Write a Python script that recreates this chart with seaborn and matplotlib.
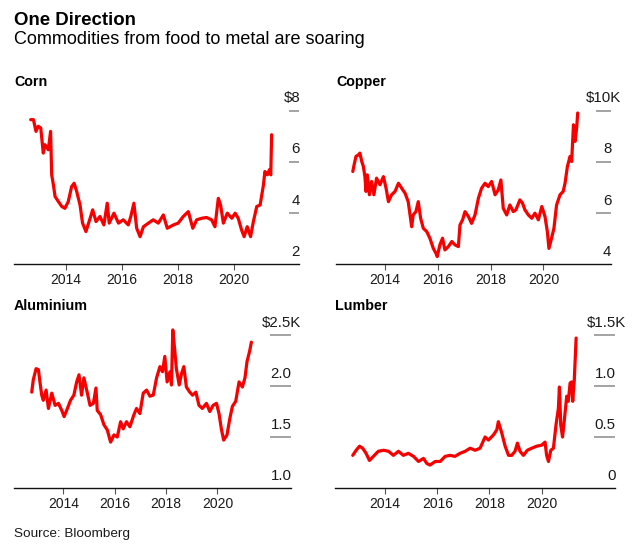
import matplotlib
matplotlib.use("Agg")
import matplotlib.pyplot as plt
import seaborn as sns
import pandas as pd

# ---------------- data ----------------
corn_year = [2012.74, 2012.84, 2012.93, 2013.01, 2013.10, 2013.19, 2013.25, 2013.37, 2013.45, 2013.49,
             2013.55, 2013.61, 2013.73, 2013.85, 2013.96, 2014.08, 2014.20, 2014.29, 2014.38, 2014.50,
             2014.59, 2014.71, 2014.86, 2014.95, 2015.07, 2015.21, 2015.35, 2015.47, 2015.54, 2015.71,
             2015.87, 2016.04, 2016.22, 2016.31, 2016.42, 2016.52, 2016.64, 2016.76, 2016.94, 2017.11,
             2017.29, 2017.47, 2017.61, 2017.83, 2018.00, 2018.18, 2018.36, 2018.52, 2018.66, 2018.84,
             2019.01, 2019.19, 2019.31, 2019.43, 2019.51, 2019.61, 2019.75, 2019.91, 2020.03, 2020.14,
             2020.26, 2020.35, 2020.46, 2020.58, 2020.68, 2020.80, 2020.92, 2021.04, 2021.09, 2021.18,
             2021.25, 2021.30, 2021.33]
corn_price = [7.65, 7.65, 7.19, 7.39, 7.32, 6.34, 6.67, 6.47, 7.19, 5.49,
              5.10, 4.64, 4.44, 4.25, 4.18, 4.44, 5.03, 5.16, 4.84, 4.31,
              3.60, 3.27, 3.79, 4.12, 3.66, 3.86, 3.53, 4.38, 3.60, 3.99,
              3.60, 3.73, 3.53, 3.86, 4.38, 3.40, 3.07, 3.46, 3.60, 3.73,
              3.60, 3.92, 3.40, 3.53, 3.60, 3.86, 4.05, 3.40, 3.73, 3.79,
              3.82, 3.73, 3.46, 4.57, 4.31, 3.60, 3.99, 3.79, 3.99, 3.79,
              3.33, 3.07, 3.46, 3.07, 3.66, 4.25, 4.31, 5.10, 5.62, 5.49,
              5.69, 5.49, 7.06]

copper_year = [2012.78, 2012.83, 2012.90, 2012.99, 2013.05, 2013.12, 2013.18, 2013.24, 2013.28, 2013.33,
               2013.41, 2013.49, 2013.58, 2013.68, 2013.81, 2013.94, 2014.04, 2014.13, 2014.25, 2014.38,
               2014.51, 2014.63, 2014.76, 2014.88, 2015.01, 2015.07, 2015.17, 2015.26, 2015.35, 2015.45,
               2015.58, 2015.70, 2015.83, 2015.93, 2015.98, 2016.08, 2016.18, 2016.27, 2016.40, 2016.53,
               2016.65, 2016.78, 2016.84, 2016.94, 2017.03, 2017.16, 2017.28, 2017.41, 2017.54, 2017.66,
               2017.79, 2017.91, 2018.04, 2018.17, 2018.29, 2018.39, 2018.48, 2018.61, 2018.73, 2018.86,
               2018.96, 2019.11, 2019.21, 2019.30, 2019.43, 2019.56, 2019.68, 2019.81, 2019.94, 2020.06,
               2020.15, 2020.21, 2020.31, 2020.40, 2020.50, 2020.63, 2020.75, 2020.82, 2020.91, 2021.01,
               2021.07, 2021.14, 2021.20, 2021.26, 2021.30]
copper_price = [7.62, 7.88, 8.21, 8.27, 8.34, 8.01, 7.82, 7.42, 6.84, 7.49,
                6.71, 7.23, 6.71, 7.36, 7.10, 7.42, 6.97, 6.44, 6.71, 6.84,
                7.16, 6.97, 6.77, 6.44, 5.46, 5.92, 6.05, 6.44, 5.79, 5.40,
                5.27, 5.01, 4.61, 4.42, 4.29, 4.75, 5.01, 4.55, 4.68, 4.88,
                4.75, 4.68, 5.53, 5.73, 6.05, 5.86, 5.59, 5.92, 6.58, 6.97,
                7.16, 7.03, 7.23, 6.71, 6.90, 7.29, 6.18, 5.92, 6.31, 6.05,
                6.12, 6.51, 6.38, 6.12, 5.92, 5.79, 5.99, 5.73, 6.25, 5.86,
                5.27, 4.61, 5.01, 5.40, 6.31, 6.71, 6.84, 7.16, 7.82, 8.21,
                8.01, 9.45, 8.80, 9.32, 9.91]

aluminium_year = [2012.77, 2012.83, 2012.94, 2013.03, 2013.09, 2013.16, 2013.22, 2013.33, 2013.42, 2013.55,
                  2013.68, 2013.81, 2013.94, 2014.03, 2014.16, 2014.28, 2014.41, 2014.52, 2014.61, 2014.71,
                  2014.80, 2014.91, 2015.04, 2015.17, 2015.27, 2015.32, 2015.45, 2015.58, 2015.71, 2015.84,
                  2015.97, 2016.10, 2016.23, 2016.33, 2016.46, 2016.59, 2016.75, 2016.85, 2016.98, 2017.11,
                  2017.24, 2017.37, 2017.50, 2017.63, 2017.76, 2017.86, 2017.95, 2018.04, 2018.15, 2018.21,
                  2018.26, 2018.33, 2018.40, 2018.51, 2018.60, 2018.69, 2018.79, 2018.92, 2019.03, 2019.16,
                  2019.28, 2019.41, 2019.57, 2019.70, 2019.83, 2019.96, 2020.06, 2020.15, 2020.24, 2020.37,
                  2020.48, 2020.58, 2020.71, 2020.84, 2020.97, 2021.07, 2021.15, 2021.25, 2021.32]
aluminium_price = [1.94, 2.06, 2.17, 2.16, 2.04, 1.91, 1.86, 1.96, 1.78, 1.93,
                   1.81, 1.83, 1.76, 1.70, 1.78, 1.86, 1.91, 2.04, 2.11, 1.91,
                   2.08, 1.96, 1.81, 1.83, 1.98, 1.76, 1.72, 1.62, 1.57, 1.45,
                   1.52, 1.50, 1.65, 1.58, 1.65, 1.60, 1.72, 1.78, 1.73, 1.93,
                   1.96, 1.90, 1.91, 2.08, 2.19, 2.14, 2.29, 2.04, 2.14, 2.01,
                   2.55, 2.37, 2.17, 2.01, 2.12, 2.19, 1.99, 1.94, 1.91, 1.94,
                   1.81, 1.78, 1.83, 1.75, 1.81, 1.83, 1.73, 1.58, 1.47, 1.52,
                   1.68, 1.80, 1.85, 2.04, 1.99, 2.08, 2.24, 2.34, 2.43]

lumber_year = [2012.76, 2012.89, 2013.02, 2013.14, 2013.27, 2013.40, 2013.55, 2013.74, 2013.94, 2014.13,
               2014.32, 2014.51, 2014.70, 2014.89, 2015.09, 2015.28, 2015.47, 2015.60, 2015.72, 2015.92,
               2016.11, 2016.30, 2016.49, 2016.68, 2016.87, 2017.07, 2017.26, 2017.45, 2017.64, 2017.83,
               2017.96, 2018.15, 2018.28, 2018.34, 2018.47, 2018.60, 2018.73, 2018.85, 2018.98, 2019.07,
               2019.17, 2019.30, 2019.45, 2019.62, 2019.81, 2020.00, 2020.13, 2020.19, 2020.26, 2020.35,
               2020.45, 2020.55, 2020.64, 2020.68, 2020.73, 2020.80, 2020.89, 2020.96, 2021.02, 2021.09,
               2021.15, 2021.19, 2021.25, 2021.32]
lumber_price = [0.32, 0.37, 0.41, 0.39, 0.34, 0.27, 0.31, 0.36, 0.37, 0.36,
                0.32, 0.36, 0.32, 0.34, 0.31, 0.26, 0.29, 0.24, 0.225, 0.26,
                0.26, 0.31, 0.32, 0.31, 0.34, 0.36, 0.39, 0.37, 0.39, 0.50,
                0.47, 0.52, 0.57, 0.65, 0.54, 0.41, 0.32, 0.32, 0.36, 0.44,
                0.36, 0.32, 0.37, 0.39, 0.41, 0.42, 0.45, 0.32, 0.26, 0.37,
                0.39, 0.62, 0.78, 0.99, 0.62, 0.50, 0.72, 0.90, 0.85, 1.03,
                1.04, 0.85, 1.06, 1.47]

x_ticks = [2014, 2016, 2018, 2020]
x_tick_labels = ["2014", "2016", "2018", "2020"]

corn_yticks = [2, 4, 6, 8]
corn_ylabels = ["2", "4", "6", "$8"]
copper_yticks = [4, 6, 8, 10]
copper_ylabels = ["4", "6", "8", "$10K"]
aluminium_yticks = [1.0, 1.5, 2.0, 2.5]
aluminium_ylabels = ["1.0", "1.5", "2.0", "$2.5K"]
lumber_yticks = [0, 0.5, 1.0, 1.5]
lumber_ylabels = ["0", "0.5", "1.0", "$1.5K"]

titles = ["Corn", "Copper", "Aluminium", "Lumber"]
main_title = "One Direction"
subtitle = "Commodities from food to metal are soaring"
source = "Source: Bloomberg"

# ---------------- styling ----------------
sns.set_theme(style="white")
plt.rcParams["font.family"] = ["Liberation Sans", "DejaVu Sans"]

W, H = 640, 550
fig = plt.figure(figsize=(6.4, 5.5), dpi=100)

RED = "#f70000"
GRAY = "#8a8a8a"
TXT = "#1a1a1a"
YLAB_SIZE = 10.8
K_WIDTH_PT = 0.667 * YLAB_SIZE  # width of the hanging "K" suffix

def px(x, y):
    return x / W, 1 - y / H

panels = [
    (titles[0], corn_year, corn_price, corn_yticks, corn_ylabels, (14, 299.3, 264, 110.7), (2012.146, 2022.317), 2021.96),
    (titles[1], copper_year, copper_price, copper_yticks, copper_ylabels, (336, 610.7, 264, 110.7), (2012.144, 2022.55), 2021.98),
    (titles[2], aluminium_year, aluminium_price, aluminium_yticks, aluminium_ylabels, (14, 290.7, 488, 335), (2012.08, 2022.85), 2022.04),
    (titles[3], lumber_year, lumber_price, lumber_yticks, lumber_ylabels, (335, 615, 488, 335), (2012.08, 2022.81), 2022.0),
]

for title, yrs, vals, yt, yl, (l, r, b, t), xlim, gstart in panels:
    ax = fig.add_axes([l / W, 1 - b / H, (r - l) / W, (b - t) / H])
    df = pd.DataFrame({"year": yrs, "value": vals})
    sns.lineplot(data=df, x="year", y="value", ax=ax, color=RED, linewidth=2.3,
                 errorbar=None, clip_on=False, solid_joinstyle="round")
    ax.set_xlim(*xlim)
    ax.set_ylim(yt[0], yt[-1])
    ax.set_xlabel("")
    ax.set_ylabel("")
    for s in ["top", "right", "left"]:
        ax.spines[s].set_visible(False)
    ax.spines["bottom"].set_color("#111111")
    ax.spines["bottom"].set_linewidth(1.0)
    ax.set_yticks([])
    ax.set_xticks(x_ticks)
    ax.set_xticklabels(x_tick_labels)
    ax.tick_params(axis="x", direction="out", length=4, width=0.8, color="#555555",
                   pad=2.5, labelsize=10, labelcolor=TXT, bottom=True)
    ax.patch.set_alpha(0)
    # gutter dashes
    for v in yt[1:]:
        ax.plot([gstart, xlim[1]], [v, v], color=GRAY, linewidth=1.1, clip_on=False,
                solid_capstyle="butt")
    # y labels above dashes ("K" suffix hangs past the right edge)
    for v, lab in zip(yt, yl):
        dx = 0.5 + (K_WIDTH_PT if lab.endswith("K") else 0)
        ax.annotate(lab, xy=(1, v), xycoords=("axes fraction", "data"),
                    xytext=(dx, 6), textcoords="offset points",
                    ha="right", va="baseline", fontsize=YLAB_SIZE, color=TXT,
                    annotation_clip=False)
    # panel title
    fig.text(*px(l, t - 24.7), title, fontsize=10.3, fontweight="bold",
             color="black", ha="left", va="baseline")

fig.text(*px(14, 25), main_title, fontsize=13.4, fontweight="bold", color="black",
         ha="left", va="baseline")
fig.text(*px(14, 44), subtitle, fontsize=13, color="black", ha="left", va="baseline")
fig.text(*px(14, 537), source, fontsize=9.7, color=TXT, ha="left", va="baseline")

fig.savefig("out.png", dpi=100, facecolor="white")
